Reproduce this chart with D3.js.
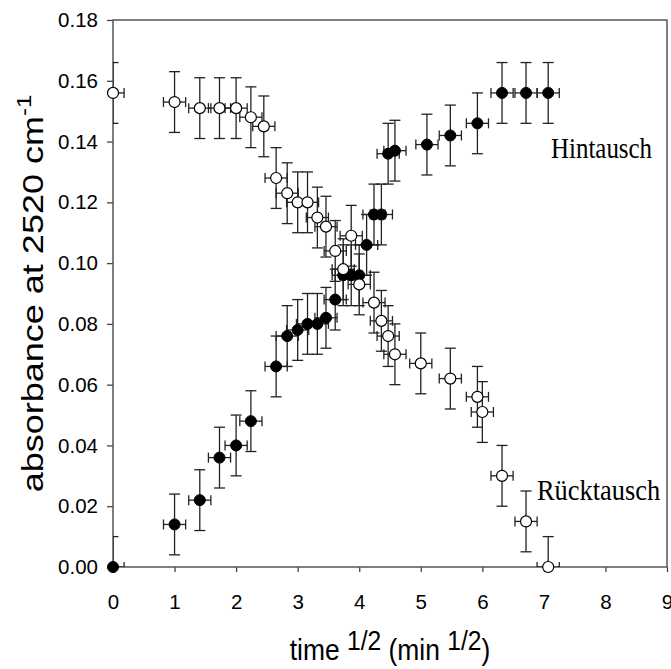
<!DOCTYPE html>
<html>
<head>
<meta charset="utf-8">
<script src="https://cdn.jsdelivr.net/npm/d3@7"></script>
<style>
  html, body { margin: 0; padding: 0; background: #fff; }
  svg { display: block; }
</style>
</head>
<body>
<div id="chart"></div>
<script>
// sqrt(time) values for both runs
const hinX = [0, 1.0, 1.41, 1.73, 2.0, 2.24, 2.65, 2.83, 3.0, 3.16, 3.32, 3.46, 3.61, 3.74, 3.87, 4.0, 4.12, 4.24, 4.36, 4.47, 4.58, 5.1, 5.48, 5.92, 6.32, 6.71, 7.07];
const hinY = [0.000, 0.014, 0.022, 0.036, 0.040, 0.048, 0.066, 0.076, 0.078, 0.080, 0.080, 0.082, 0.088, 0.096, 0.096, 0.096, 0.106, 0.116, 0.116, 0.136, 0.137, 0.139, 0.142, 0.146, 0.156, 0.156, 0.156];

const rueckX = [0, 1.0, 1.41, 1.73, 2.0, 2.24, 2.45, 2.65, 2.83, 3.0, 3.16, 3.32, 3.46, 3.61, 3.74, 3.87, 4.0, 4.24, 4.36, 4.47, 4.58, 5.0, 5.48, 5.92, 6.0, 6.32, 6.71, 7.07];
const rueckY = [0.156, 0.153, 0.151, 0.151, 0.151, 0.148, 0.145, 0.128, 0.123, 0.120, 0.120, 0.115, 0.112, 0.104, 0.098, 0.109, 0.093, 0.087, 0.081, 0.076, 0.070, 0.067, 0.062, 0.056, 0.051, 0.030, 0.015, 0.000];

const errY = 0.01;   // vertical error
const errX = 0.18;   // horizontal error

const xTicks = [0, 1, 2, 3, 4, 5, 6, 7, 8, 9];
const yTicks = [0, 0.02, 0.04, 0.06, 0.08, 0.10, 0.12, 0.14, 0.16, 0.18];

const W = 671, H = 669;
const margin = { top: 20, right: 4, bottom: 102, left: 113 };
const width = W - margin.left - margin.right;
const height = H - margin.top - margin.bottom;

const svg = d3.select('#chart').append('svg')
  .attr('width', W)
  .attr('height', H);

const g = svg.append('g')
  .attr('transform', `translate(${margin.left},${margin.top})`);

const x = d3.scaleLinear().domain([0, 9]).range([0, width]);
const y = d3.scaleLinear().domain([0, 0.18]).range([height, 0]);

g.append('clipPath').attr('id', 'plotclip')
  .append('rect').attr('x', 0).attr('y', 0).attr('width', width).attr('height', height);

// axes
const xAxis = g.append('g')
  .attr('transform', `translate(0,${height})`)
  .call(d3.axisBottom(x).tickValues(xTicks).tickSize(5).tickPadding(22).tickFormat(d3.format('d')));
const yAxis = g.append('g')
  .call(d3.axisLeft(y).tickValues(yTicks).tickSize(6).tickPadding(9).tickFormat(d3.format('.2f')));

[xAxis, yAxis].forEach(a => {
  a.select('.domain').remove();
  a.selectAll('line').attr('stroke', '#444').attr('stroke-width', 1.3);
  a.selectAll('text')
    .attr('font-family', 'Liberation Sans, Arial, sans-serif')
    .attr('font-size', 20.5)
    .attr('fill', '#000');
});

// frame
g.append('rect')
  .attr('x', 0).attr('y', 0)
  .attr('width', width).attr('height', height)
  .attr('fill', 'none')
  .attr('stroke', '#555')
  .attr('stroke-width', 1.5);

function series(xs, ys) {
  return xs.map((v, i) => ({ x: v, y: ys[i] }));
}
const hin = series(hinX, hinY);
const rueck = series(rueckX, rueckY);
const all = hin.concat(rueck);

const bars = g.append('g')
  .attr('clip-path', 'url(#plotclip)')
  .attr('stroke', '#222')
  .attr('stroke-width', 1.3)
  .attr('fill', 'none');

const capV = 5.5, capH = 5;
all.forEach(d => {
  const cx = x(d.x), cy = y(d.y);
  const y0 = y(d.y - errY), y1 = y(d.y + errY);
  const x0 = x(Math.max(0, d.x - errX)), x1 = x(d.x + errX);
  bars.append('line').attr('x1', cx).attr('x2', cx).attr('y1', y0).attr('y2', y1);
  bars.append('line').attr('x1', cx - capV).attr('x2', cx + capV).attr('y1', y1).attr('y2', y1);
  bars.append('line').attr('x1', cx - capV).attr('x2', cx + capV).attr('y1', y0).attr('y2', y0);
  bars.append('line').attr('x1', x0).attr('x2', x1).attr('y1', cy).attr('y2', cy);
  if (d.x - errX >= 0) {
    bars.append('line').attr('x1', x0).attr('x2', x0).attr('y1', cy - capH).attr('y2', cy + capH);
  }
  bars.append('line').attr('x1', x1).attr('x2', x1).attr('y1', cy - capH).attr('y2', cy + capH);
});

g.selectAll('.hin')
  .data(hin)
  .enter().append('circle')
  .attr('class', 'hin')
  .attr('cx', d => x(d.x))
  .attr('cy', d => y(d.y))
  .attr('r', 5.5)
  .attr('fill', '#000')
  .attr('stroke', '#000')
  .attr('stroke-width', 1);

g.selectAll('.rueck')
  .data(rueck)
  .enter().append('circle')
  .attr('class', 'rueck')
  .attr('cx', d => x(d.x))
  .attr('cy', d => y(d.y))
  .attr('r', 5.5)
  .attr('fill', '#fff')
  .attr('stroke', '#000')
  .attr('stroke-width', 1.2);

// series labels (serif, slightly squeezed like the original)
svg.append('text')
  .attr('transform', 'translate(551,158) scale(0.86,1)')
  .attr('font-family', 'Liberation Serif, Times New Roman, serif')
  .attr('font-size', 29)
  .text('Hintausch');

svg.append('text')
  .attr('transform', 'translate(537,500) scale(0.91,1)')
  .attr('font-family', 'Liberation Serif, Times New Roman, serif')
  .attr('font-size', 29)
  .text('Rücktausch');

// x title
const xt = svg.append('text')
  .attr('transform', `translate(${margin.left + width / 2},660) scale(0.88,1)`)
  .attr('text-anchor', 'middle')
  .attr('font-family', 'Liberation Sans, Arial, sans-serif')
  .attr('font-size', 30);
xt.append('tspan').text('time ');
xt.append('tspan').attr('font-size', 28).attr('dy', -10).text('1/2');
xt.append('tspan').attr('dy', 10).text(' (min ');
xt.append('tspan').attr('font-size', 28).attr('dy', -10).text('1/2');
xt.append('tspan').attr('dy', 10).text(')');

// y title
const yt = svg.append('text')
  .attr('transform', `translate(43,${margin.top + height / 2}) rotate(-90) scale(1,0.83)`)
  .attr('text-anchor', 'middle')
  .attr('font-family', 'Liberation Sans, Arial, sans-serif')
  .attr('font-size', 36);
yt.append('tspan').text('absorbance at 2520 cm');
yt.append('tspan').attr('font-size', 24).attr('dy', -14).text('-1');
</script>
</body>
</html>
